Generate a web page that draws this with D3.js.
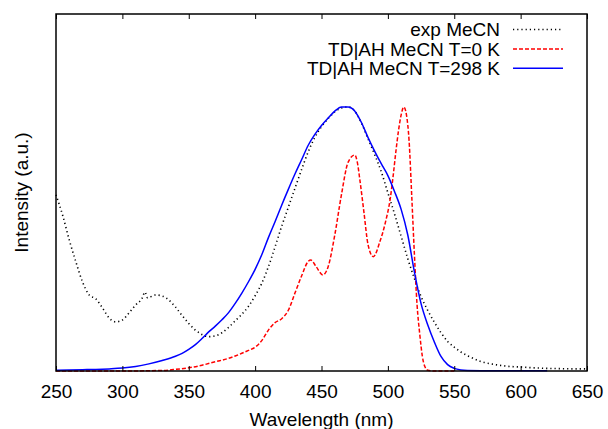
<!DOCTYPE html>
<html>
<head>
<meta charset="utf-8">
<script src="https://cdn.jsdelivr.net/npm/d3@7"></script>
<style>
  body { margin: 0; background: #fff; }
  text { font-family: "Liberation Sans", Arial, sans-serif; fill: #000; }
</style>
</head>
<body>
<div id="chart"></div>
<script>
// Chart size and plot box (gnuplot style)
const width = 608;
const height = 429;
const margin = { top: 14, right: 21, bottom: 58, left: 56 };

// Wavelength ticks
const xTicks = [250, 300, 350, 400, 450, 500, 550, 600, 650];

// exp MeCN (wavelength, intensity)
const expWl = [250, 255, 260, 265, 270, 275, 280, 285, 290, 295, 300, 305, 310, 315, 317, 319, 325, 330, 335, 340,
  345, 350, 355, 360, 365, 370, 375, 380, 385, 390, 395, 400, 405, 410, 415, 420, 425, 430, 435, 440,
  445, 450, 455, 460, 465, 470, 475, 480, 485, 490, 495, 500, 505, 510, 515, 520, 525, 530, 535, 540,
  545, 550, 555, 560, 570, 580, 590, 600, 610, 620, 630, 640, 650];
const expVal = [0.667, 0.59, 0.496, 0.413, 0.337, 0.288, 0.273, 0.239, 0.201, 0.186, 0.193, 0.22, 0.25, 0.277, 0.299, 0.277, 0.288, 0.284, 0.269, 0.242,
  0.21, 0.18, 0.155, 0.138, 0.13, 0.133, 0.145, 0.165, 0.19, 0.215, 0.245, 0.285, 0.332, 0.395, 0.47, 0.548, 0.62, 0.692, 0.763, 0.83,
  0.885, 0.925, 0.956, 0.981, 0.996, 1.0, 0.985, 0.94, 0.88, 0.82, 0.755, 0.675, 0.595, 0.51, 0.425, 0.35, 0.282, 0.23, 0.185, 0.145,
  0.112, 0.09, 0.072, 0.058, 0.036, 0.025, 0.018, 0.015, 0.012, 0.01, 0.009, 0.008, 0.008];

// TD|AH MeCN T=0 K
const t0Wl = [250, 300, 330, 340, 350, 360, 370, 380, 385, 390, 395, 400, 405, 410, 415, 420, 425, 430, 435, 440,
  442, 446, 451, 455, 460, 465, 470, 475, 477, 479, 482, 485, 489, 494, 498, 502, 504, 506, 508, 510,
  512, 514, 516, 518, 520, 522, 524, 526, 528, 530, 535, 550];
const t0Val = [0.0, 0.0, 0.002, 0.006, 0.012, 0.022, 0.035, 0.048, 0.057, 0.067, 0.078, 0.09, 0.115, 0.155, 0.183, 0.198, 0.23, 0.295, 0.36, 0.415,
  0.42, 0.395, 0.364, 0.395, 0.515, 0.667, 0.79, 0.818, 0.79, 0.72, 0.6, 0.48, 0.433, 0.49, 0.56, 0.66, 0.74, 0.83, 0.91, 0.97,
  1.0, 0.97, 0.87, 0.66, 0.44, 0.25, 0.14, 0.055, 0.015, 0.003, 0.0, 0.0];

// TD|AH MeCN T=298 K
const t298Wl = [250, 260, 270, 280, 290, 300, 310, 320, 330, 340, 345, 350, 355, 360, 365, 370, 375, 380, 385, 390,
  395, 400, 405, 410, 415, 420, 425, 430, 435, 440, 445, 450, 455, 460, 465, 470, 475, 480, 485, 490,
  495, 500, 505, 510, 515, 520, 525, 530, 535, 540, 545, 550, 555, 560, 580, 620];
const t298Val = [0.003, 0.004, 0.005, 0.006, 0.008, 0.011, 0.017, 0.027, 0.04, 0.056, 0.067, 0.082, 0.1, 0.123, 0.148, 0.17, 0.194, 0.221, 0.256, 0.295,
  0.338, 0.385, 0.44, 0.505, 0.565, 0.628, 0.688, 0.746, 0.8, 0.855, 0.896, 0.93, 0.958, 0.984, 1.0, 1.0, 0.985, 0.942, 0.885, 0.833,
  0.785, 0.74, 0.68, 0.612, 0.515, 0.375, 0.255, 0.175, 0.11, 0.055, 0.024, 0.01, 0.004, 0.002, 0.001, 0.001];

const series = [
  { name: "exp MeCN", wl: expWl, val: expVal, color: "#000", width: 1.6, dash: "1.2,3" },
  { name: "TD|AH MeCN T=0 K", wl: t0Wl, val: t0Val, color: "#f00", width: 1.5, dash: "4,2" },
  { name: "TD|AH MeCN T=298 K", wl: t298Wl, val: t298Val, color: "#00f", width: 1.5, dash: null }
];

const svg = d3.select("#chart").append("svg")
  .attr("width", width)
  .attr("height", height);

const x = d3.scaleLinear().domain([250, 650]).range([margin.left, width - margin.right]);
const y = d3.scaleLinear().domain([0, 1.352]).range([height - margin.bottom, margin.top]);

// Curves
const line = d3.line()
  .x(d => x(d[0]))
  .y(d => y(d[1]))
  .curve(d3.curveMonotoneX);

series.forEach(s => {
  svg.append("path")
    .datum(s.wl.map((w, i) => [w, s.val[i]]))
    .attr("fill", "none")
    .attr("stroke", s.color)
    .attr("stroke-width", s.width)
    .attr("stroke-dasharray", s.dash)
    .attr("d", line);
});

// Axes: bottom with labels, top mirrored ticks, both inward
svg.append("g")
  .attr("transform", `translate(0,${height - margin.bottom})`)
  .call(d3.axisBottom(x).tickValues(xTicks).tickSizeInner(-5).tickSizeOuter(0).tickPadding(14))
  .call(g => g.select(".domain").remove())
  .call(g => g.selectAll("text").attr("font-size", 19).attr("font-family", "Liberation Sans, Arial, sans-serif"));

svg.append("g")
  .attr("transform", `translate(0,${margin.top})`)
  .call(d3.axisTop(x).tickValues(xTicks).tickSizeInner(-5).tickSizeOuter(0).tickFormat(""))
  .call(g => g.select(".domain").remove());

svg.selectAll(".tick line").attr("stroke", "#000").attr("stroke-width", 1);

// Border
svg.append("rect")
  .attr("x", x(250))
  .attr("y", y(1.352))
  .attr("width", x(650) - x(250))
  .attr("height", y(0) - y(1.352))
  .attr("fill", "none")
  .attr("stroke", "#000")
  .attr("stroke-width", 1.5);

// Axis titles
svg.append("text")
  .attr("x", (x(250) + x(650)) / 2)
  .attr("y", 426)
  .attr("text-anchor", "middle")
  .attr("font-size", 19)
  .text("Wavelength (nm)");

svg.append("text")
  .attr("transform", `translate(28,${(y(0) + y(1.352)) / 2}) rotate(-90)`)
  .attr("text-anchor", "middle")
  .attr("font-size", 19)
  .text("Intensity (a.u.)");

// Legend
const legend = svg.append("g");
series.forEach((s, i) => {
  const ly = 29.5 + i * 19.4;
  legend.append("text")
    .attr("x", 500)
    .attr("y", ly)
    .attr("dy", "0.35em")
    .attr("text-anchor", "end")
    .attr("font-size", 19)
    .text(s.name);
  legend.append("line")
    .attr("x1", 513).attr("x2", 563)
    .attr("y1", ly).attr("y2", ly)
    .attr("stroke", s.color)
    .attr("stroke-width", s.width)
    .attr("stroke-dasharray", s.dash);
});
</script>
</body>
</html>
